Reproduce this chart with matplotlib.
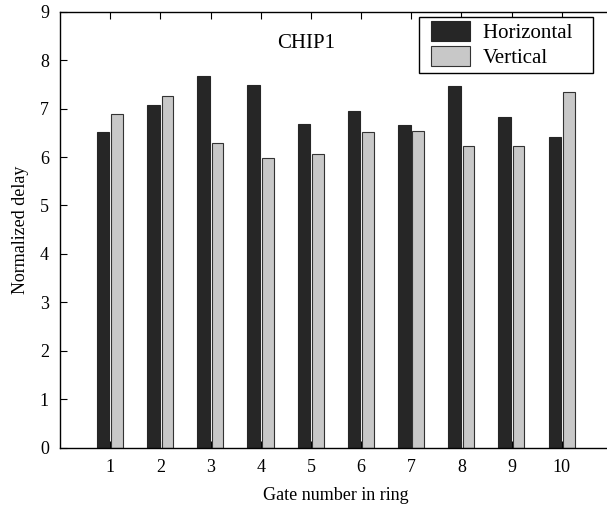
import matplotlib
matplotlib.use("Agg")
import matplotlib.pyplot as plt
import matplotlib.patches as mpatches
from matplotlib.legend_handler import HandlerPatch
import numpy as np

gates = [1, 2, 3, 4, 5, 6, 7, 8, 9, 10]
horizontal = [6.52, 7.08, 7.67, 7.48, 6.68, 6.94, 6.67, 7.47, 6.82, 6.41]
vertical = [6.89, 7.26, 6.28, 5.99, 6.06, 6.52, 6.54, 6.23, 6.22, 7.34]
yticks = [0, 1, 2, 3, 4, 5, 6, 7, 8, 9]

plt.rcParams['font.family'] = ['Liberation Serif', 'DejaVu Serif']

fig = plt.figure(figsize=(6.07, 5.12), dpi=100)
ax = fig.add_axes([60/607, (512-447.7)/512, 552/607, (447.7-11.7)/512])

x = np.array(gates, dtype=float)
w = 0.25
ax.bar(x - 0.14, horizontal, width=w, color='#262626', edgecolor='#262626', linewidth=0.8, zorder=2)
ax.bar(x + 0.14, vertical, width=w*0.93, color='#c8c8c8', edgecolor='#333333', linewidth=0.8, zorder=2)

ax.set_xlim(0, 11)
ax.set_ylim(0, 9)
ax.set_xticks(gates)
ax.set_yticks(yticks)
ax.tick_params(direction='in', length=5, width=0.8, labelsize=13, top=True, right=False, pad=8)
for s in ax.spines.values():
    s.set_linewidth(1.0)

ax.set_xlabel('Gate number in ring', fontsize=13, labelpad=8)
ax.set_ylabel('Normalized delay', fontsize=13, labelpad=8)
ax.text(4.9, 8.34, 'CHIP1', fontsize=15, ha='center', va='center')

OFFSET = 5.0  # points of extra left padding inside legend

def shifted_patch(legend, orig_handle, xdescent, ydescent, width, height, fontsize):
    return mpatches.Rectangle((-xdescent + OFFSET, -ydescent - 1), width - OFFSET, height + 2)

h_patch = mpatches.Patch(facecolor='#262626', edgecolor='#262626', linewidth=0.8)
v_patch = mpatches.Patch(facecolor='#c8c8c8', edgecolor='#333333', linewidth=0.8)
leg = ax.legend([h_patch, v_patch], ['Horizontal   ', 'Vertical'],
                handler_map={mpatches.Patch: HandlerPatch(patch_func=shifted_patch)},
                loc='upper right', bbox_to_anchor=((593-60)/552, (447.7-17)/436), borderaxespad=0,
                fontsize=15, frameon=True, fancybox=False, edgecolor='black', framealpha=1,
                handlelength=2.2, handleheight=0.9, borderpad=0.25, labelspacing=0.2, handletextpad=0.6)
leg.get_frame().set_linewidth(1.0)

fig.savefig('out.png', dpi=100)
